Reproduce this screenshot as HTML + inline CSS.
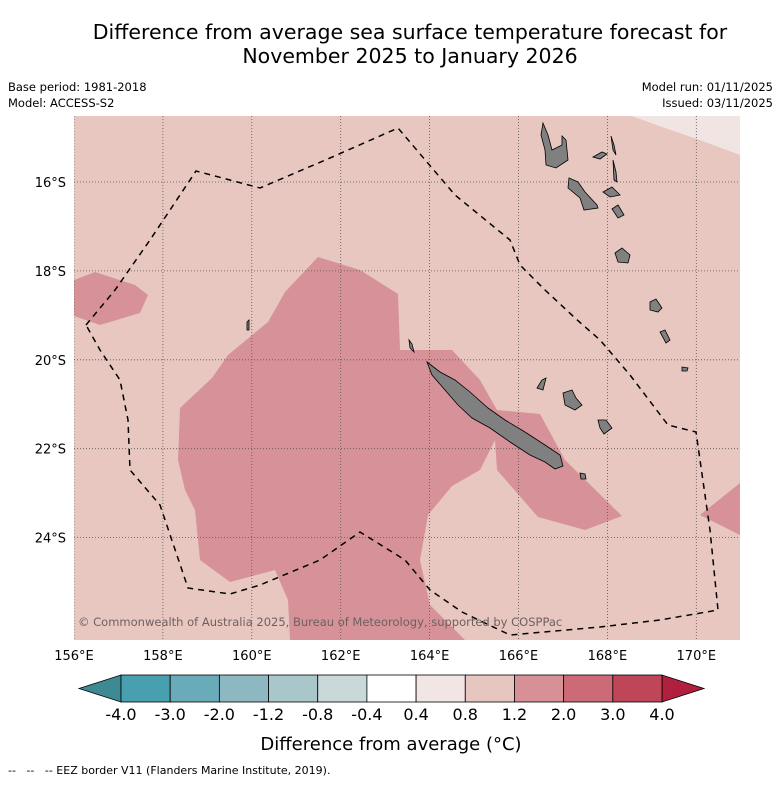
<!DOCTYPE html>
<html><head><meta charset="utf-8"><style>
body{margin:0;background:#fff;}
svg text{font-family:"DejaVu Sans","Liberation Sans",sans-serif;}
</style></head><body>
<svg width="781" height="781" viewBox="0 0 781 781" xmlns="http://www.w3.org/2000/svg">
<text x="410" y="39" font-size="20.5" text-anchor="middle">Difference from average sea surface temperature forecast for</text>
<text x="410" y="63" font-size="20.5" text-anchor="middle">November 2025 to January 2026</text>
<text x="8" y="91" font-size="11.5">Base period: 1981-2018</text>
<text x="8" y="107" font-size="11.5">Model: ACCESS-S2</text>
<text x="773" y="91" font-size="11.5" text-anchor="end">Model run: 01/11/2025</text>
<text x="773" y="107" font-size="11.5" text-anchor="end">Issued: 03/11/2025</text>
<defs><clipPath id="mapclip"><rect x="74" y="116" width="666" height="524"/></clipPath></defs>
<g id="map" clip-path="url(#mapclip)">
<rect x="74" y="116" width="666" height="524" fill="#e8c7c1"/>
<polygon fill="#f1e5e3" points="632,116 740,116 740,155 700,140 665,128"/>
<polygon fill="#d69298" points="318,257 360,270 398,294 400,350 452,350 480,380 497,410 540,414 565,460 622,516 585,530 538,517 497,470 495,440 480,470 452,486 428,515 420,560 430,605 465,640 290,640 288,600 275,570 230,582 200,560 195,510 185,490 178,460 180,408 212,378 228,355 268,322 285,292"/>
<polygon fill="#d69298" points="74,280 95,272 135,285 148,295 140,313 100,325 74,316"/>
<polygon fill="#d69298" points="740,483 700,515 740,535"/>
<g id="grid" stroke="#555" stroke-width="0.8" stroke-dasharray="1,2"></g>
<g fill="#808080" stroke="#000" stroke-width="0.8">
<polygon points="427,362 440,372 455,380 470,392 488,408 505,420 525,432 545,445 560,455 563,466 555,469 545,462 530,455 510,442 490,428 472,418 458,405 445,390 432,375"/>
<polygon points="543,123 548,135 552,150 562,145 562,136 566,140 568,160 556,168 546,165 545,150 541,135"/>
<polygon points="569,178 578,182 585,192 597,205 598,208 584,210 580,198 568,188"/>
<polygon points="593,157 602,152 607,154 600,159"/>
<polygon points="611,136 614,145 616,155 613,150"/>
<polygon points="613,160 616,172 617,182 614,180"/>
<polygon points="603,192 612,187 620,195 610,197"/>
<polygon points="612,209 618,205 624,215 618,218"/>
<polygon points="615,253 622,248 630,255 628,263 618,262"/>
<polygon points="650,302 656,299 662,308 658,312 650,310"/>
<polygon points="660,332 665,330 670,340 666,343"/>
<polygon points="682,367 688,368 687,371 682,371"/>
<polygon points="563,393 572,390 576,398 582,405 575,410 565,405"/>
<polygon points="598,420 606,420 612,428 604,434 600,428"/>
<polygon points="537,388 542,380 546,378 543,390"/>
<polygon points="580,473 585,474 586,479 581,479"/>
<polygon points="247,322 249,320 249,330 247,330"/>
<polygon points="409,340 412,344 414,352 410,348"/>
</g>
<polyline fill="none" stroke="#000" stroke-width="1.5" stroke-dasharray="6,5" points="86,325 115,290 150,240 196,171 260,188 330,158 398,128 455,195 510,240 520,265 545,290 575,318 600,340 630,375 668,425 696,432 710,530 718,610 660,620 600,627 510,635 462,612 430,590 405,560 360,532 320,560 260,585 230,594 188,588 160,505 130,470 128,420 120,380 100,350 86,325"/>
<text x="78" y="626" font-size="11.5" fill="#6e6060">© Commonwealth of Australia 2025, Bureau of Meteorology, supported by COSPPac</text>
</g>
<g id="ticks" font-size="13"></g>
<g id="cbar"></g>
<text x="391" y="750" font-size="18" text-anchor="middle">Difference from average (°C)</text>
<text x="8" y="774" font-size="11" xml:space="preserve">--   --   -- EEZ border V11 (Flanders Marine Institute, 2019).</text>
</svg>
<script>
const lonTicks=[156,158,160,162,164,166,168,170];
const latTicks=[16,18,20,22,24];
const cbarBounds=["-4.0","-3.0","-2.0","-1.2","-0.8","-0.4","0.4","0.8","1.2","2.0","3.0","4.0"];
const cbarColors=["#479fb0","#69abb8","#8db8c1","#a9c7cb","#c9d9da","#ffffff","#f2e6e4","#e8c6c0","#d69096","#cc6b77","#bf4658"];
const NS="http://www.w3.org/2000/svg";
const xOf=lon=>74+(lon-156)*44.45;
const yOf=lat=>182+(lat-16)*44.45;
function mk(t,a,p){const e=document.createElementNS(NS,t);for(const k in a)e.setAttribute(k,a[k]);p.appendChild(e);return e;}
const grid=document.getElementById('grid'),ticks=document.getElementById('ticks'),cb=document.getElementById('cbar');
lonTicks.forEach(l=>{
 const ln=mk('line',{x1:xOf(l),x2:xOf(l),y1:116,y2:640},grid);
 
 
 const t=mk('text',{x:xOf(l),y:660,'text-anchor':'middle'},ticks);t.textContent=l+'°E';
 
 
});
latTicks.forEach(l=>{
 const ln=mk('line',{x1:74,x2:740,y1:yOf(l),y2:yOf(l)},grid);
 
 
 const t=mk('text',{x:66,y:yOf(l)+5,'text-anchor':'end'},ticks);t.textContent=l+'°S';
 
 
});
const x0=121,x1=662,y0=675,h=27,w=(x1-x0)/cbarColors.length;
const lt=mk('polygon',{points:`${x0},${y0} ${x0},${y0+h} 79,${y0+h/2}`,fill:'#3e8a94',stroke:'#000','stroke-width':0.8},cb);


const rt=mk('polygon',{points:`${x1},${y0} ${x1},${y0+h} 704,${y0+h/2}`,fill:'#b01f3e',stroke:'#000','stroke-width':0.8},cb);


cbarColors.forEach((c,i)=>{
 const r=mk('rect',{x:x0+i*w,y:y0,width:w,height:h,fill:c,stroke:'#000','stroke-width':0.8},cb);
 
 
});
cbarBounds.forEach((b,i)=>{
 const t=mk('text',{x:x0+i*w,y:720,'text-anchor':'middle','font-size':16},cb);t.textContent=b;
 
 
});
</script>
</body></html>
